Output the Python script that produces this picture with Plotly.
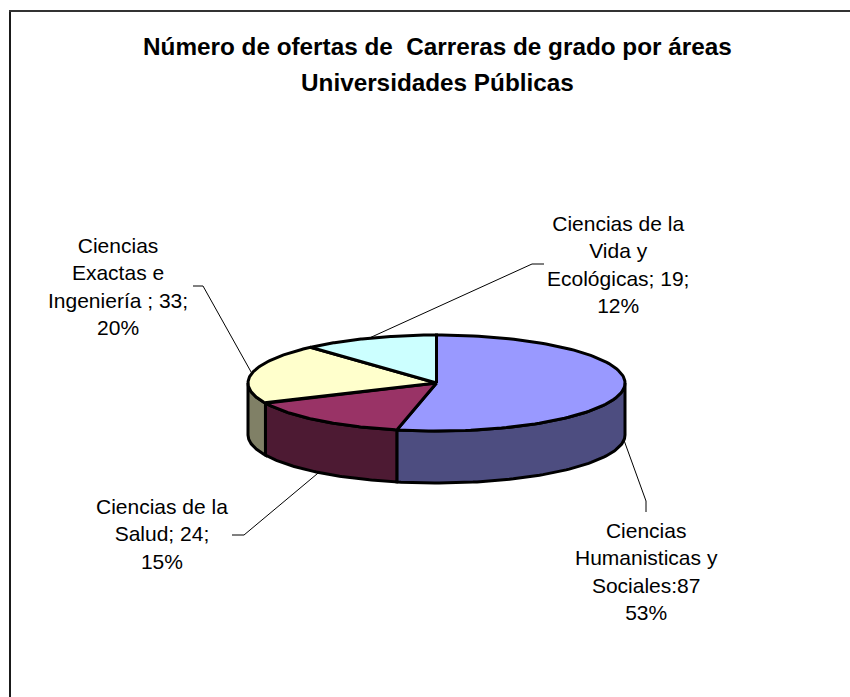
import numpy as np
import plotly.graph_objects as go

# ---- data ----
categories = ["Ciencias Humanisticas y Sociales", "Ciencias de la Salud",
              "Ciencias Exactas e Ingeniería", "Ciencias de la Vida y Ecológicas"]
values = [87, 24, 33, 19]
label_texts = ["Ciencias<br>Humanisticas y<br>Sociales:87<br>53%",
               "Ciencias de la<br>Salud; 24;<br>15%",
               "Ciencias<br>Exactas e<br>Ingeniería ; 33;<br>20%",
               "Ciencias de la<br>Vida y<br>Ecológicas; 19;<br>12%"]
title_lines = ["Número de ofertas de\u00a0 Carreras de grado por áreas", "Universidades Públicas"]

# ---- style / layout ----
top_colors = ["#9999FF", "#993366", "#FFFFCC", "#CCFFFF"]
side_colors = ["#4D4D80", "#4D1A33", "#808066", "#668080"]
CX, CY, RX, RY, DEPTH = 436.5, 383, 188.5, 48, 52
label_pos = [(646, 571), (162, 534), (118, 286), (618, 264)]
elbows = [[(646, 501), (646, 512)], [(244, 535), (232, 535)],
          [(203, 286), (193, 286)], [(532, 264), (544, 264)]]
title_pos = [(437, 46), (437, 82)]


def ell(theta_deg, dy=0.0):
    t = np.radians(theta_deg)
    return CX + RX * np.sin(t), CY - RY * np.cos(t) + dy


total = sum(values)
edges = np.concatenate([[0], np.cumsum(values)]) / total * 360

fig = go.Figure()
LINE = dict(color="black", width=3)

# side walls (front half only)
for i in range(len(values)):
    a, b = max(edges[i], 90), min(edges[i + 1], 270)
    if b <= a:
        continue
    th = np.linspace(a, b, 80)
    x1, y1 = ell(th)
    x2, y2 = ell(th[::-1], DEPTH)
    fig.add_trace(go.Scatter(x=np.r_[x1, x2, x1[0]], y=np.r_[y1, y2, y1[0]], mode="lines",
                             fill="toself", fillcolor=side_colors[i], line=LINE,
                             hoverinfo="skip", showlegend=False))

# top faces
for i in range(len(values)):
    th = np.linspace(edges[i], edges[i + 1], 120)
    x1, y1 = ell(th)
    fig.add_trace(go.Scatter(x=np.r_[CX, x1, CX], y=np.r_[CY, y1, CY], mode="lines",
                             fill="toself", fillcolor=top_colors[i], line=LINE,
                             name=categories[i], hoverinfo="skip", showlegend=False))

# leader lines, anchored at each slice's mid angle
for i in range(len(values)):
    mid = (edges[i] + edges[i + 1]) / 2
    ax, ay = ell(mid, DEPTH if 90 < mid < 270 else 0)
    xs = [ax] + [p[0] for p in elbows[i]]
    ys = [ay] + [p[1] for p in elbows[i]]
    fig.add_trace(go.Scatter(x=xs, y=ys, mode="lines", line=dict(color="black", width=1),
                             hoverinfo="skip", showlegend=False))

annotations = []
for txt, (x, y) in zip(label_texts, label_pos):
    annotations.append(dict(x=x, y=y, xref="x", yref="y", text=txt, showarrow=False,
                            xanchor="center", yanchor="middle", align="center",
                            font=dict(family="Liberation Sans, Arial", size=21, color="black")))
for txt, (x, y) in zip(title_lines, title_pos):
    annotations.append(dict(x=x, y=y, xref="x", yref="y", text="<b>%s</b>" % txt, showarrow=False,
                            xanchor="center", yanchor="middle", align="center",
                            font=dict(family="Liberation Sans, Arial", size=24.3, color="black")))

fig.update_layout(
    width=850, height=697, autosize=False,
    margin=dict(l=0, r=0, t=0, b=0),
    paper_bgcolor="white", plot_bgcolor="white",
    xaxis=dict(range=[0, 850], visible=False, fixedrange=True),
    yaxis=dict(range=[697, 0], visible=False, fixedrange=True),
    annotations=annotations,
    shapes=[
        dict(type="line", xref="x", yref="y", x0=10, x1=10, y0=10, y1=697, line=dict(color="#1a1a1a", width=2)),
        dict(type="line", xref="x", yref="y", x0=9, x1=850, y0=11, y1=11, line=dict(color="#333333", width=2)),
    ],
)
fig.write_html("out.html", config=dict(displayModeBar=False),
               post_script="document.body.style.margin='0';document.documentElement.style.overflow='hidden';")
